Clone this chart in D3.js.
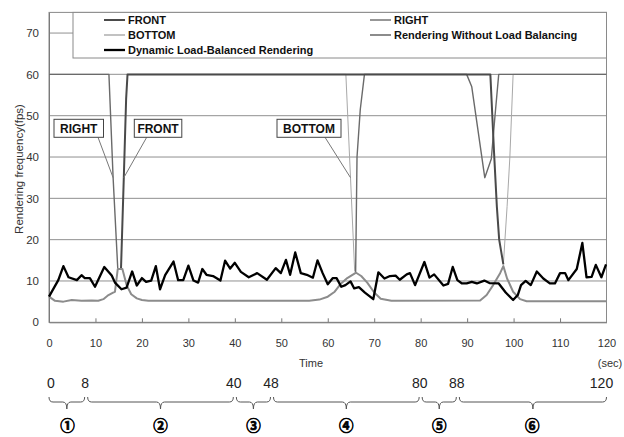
<!DOCTYPE html>
<html>
<head>
<meta charset="utf-8">
<script src="https://cdn.jsdelivr.net/npm/d3@7"></script>
<style>
  body { margin: 0; background: #fff; }
  svg { display: block; font-family: "Liberation Sans", Arial, sans-serif; }
</style>
</head>
<body>
<div id="host"></div>
<script>
// time axis ticks (sec) and fps ticks
const xTicks = [0, 10, 20, 30, 40, 50, 60, 70, 80, 90, 100, 110, 120];
const yTicks = [0, 10, 20, 30, 40, 50, 60, 70];

// Dynamic Load-Balanced Rendering
const dynTime = [0, 2, 3.1, 4.2, 6, 7, 7.7, 8.8, 9.9, 11.9, 13.5, 14.2, 15.6, 16.7, 17.9, 18.9, 20, 20.9, 22, 23, 23.9, 25, 26.8, 27.8, 28.9, 30, 31.1, 32.1, 33, 33.9, 35.3, 36.9, 37.9, 39, 40, 41.3, 43, 44.8, 46.9, 48.8, 49.9, 51, 51.9, 53, 54.2, 55.5, 56.8, 57.8, 58.9, 60, 61.1, 61.9, 62.9, 63.8, 64.9, 65.7, 66.7, 68, 69.8, 70.9, 72.2, 73.4, 74.6, 75.5, 77, 77.7, 78.8, 80.8, 81.9, 82.9, 84.9, 85.9, 86.9, 87.9, 88.9, 89.9, 91, 92.1, 93.7, 94.8, 96.8, 98.3, 99.9, 100.9, 101.6, 102.6, 103.7, 105, 106.4, 107.8, 108.9, 110, 111.1, 111.8, 113.6, 114.8, 115.7, 116.8, 117.7, 118.9, 119.9];
const dynFps = [6.2, 10.2, 13.6, 10.9, 10.2, 11.4, 10.7, 10.7, 8.6, 13.4, 11.3, 9.6, 8, 8.4, 12.3, 8.9, 10.7, 9.8, 10.1, 13.6, 8, 11.4, 14.7, 10.2, 10.2, 13.7, 10.1, 9.6, 12.9, 11.5, 11.2, 10.1, 14.9, 13, 14.4, 12.2, 10.9, 11.9, 10.3, 13.1, 11.9, 15.1, 11.5, 16.9, 11.9, 11.5, 10.8, 15, 11.9, 9.2, 10.7, 10.7, 8.6, 9, 9.9, 8.2, 8.5, 7.2, 5.6, 12.1, 10.6, 11.2, 11.3, 10.3, 11.6, 11.9, 9, 14.6, 10.8, 11.6, 8.9, 9.3, 13.4, 10.2, 9.4, 9.4, 9.8, 9.4, 10.1, 9.5, 9.4, 7.2, 5.4, 6.6, 9, 10, 9, 12.3, 10.6, 9.4, 9.4, 11.9, 11.9, 10.2, 12.9, 19.2, 10.9, 11, 13.9, 10.9, 14];

// Rendering Without Load Balancing
const nolbTime = [0, 1.3, 3.1, 4.9, 7, 9.2, 10.6, 11.7, 12.8, 13.8, 14.2, 14.8, 15.8, 16.7, 17.7, 18.9, 20, 21.4, 56, 58.2, 60, 61.5, 62.7, 64.2, 66.1, 67.2, 68.5, 70, 71.4, 73.7, 92.8, 94.2, 95.6, 97.1, 97.8, 98.6, 99.9, 101.4, 102.8, 120];
const nolbFps = [6.2, 5.2, 5, 5.4, 5.2, 5.3, 5.2, 5.6, 6.6, 7.2, 7.4, 12.9, 12.9, 9, 6.8, 5.8, 5.4, 5.2, 5.2, 5.5, 6.2, 7.4, 9.2, 10.7, 12, 11.2, 9.6, 7.2, 5.7, 5.2, 5.3, 6.6, 9, 11.9, 13.6, 10.6, 7.4, 5.6, 5.1, 5.1];

// per-view frequencies (null = hidden under the active rendering line)
const frontTime = [15.5, 16.1, 16.6, 16.9, 95.0, 95.8, 96.4, 96.9, 97.8];
const frontFps = [13, 35, 54, 60, 60, 41, 28, 20, 14];
const rightTime = [0, 12.9, 13.8, 14.8, 40, 66.0, 66.3, 67.0, 67.9, 89.9, 91, 93.8, 95.2, 96.0, 96.8, 120];
const rightFps = [60, 60, 35, 13, null, 12, 40, 51.5, 60, 60, 57, 35, 39.5, 50, 60, 60];
const bottomTime = [0, 63.9, 64.9, 65.8, 80, 97.8, 98.6, 99.2, 99.9, 120];
const bottomFps = [60, 60, 35, 12.3, null, 14, 28, 40, 60, 60];

// phases under the time axis
const phaseBounds = [0, 8, 40, 48, 80, 88, 120];
const phaseMarks = ['①', '②', '③', '④', '⑤', '⑥'];

const width = 624;
const height = 437;

const svg = d3.select('#host').append('svg')
  .attr('width', width)
  .attr('height', height);

const x = d3.scaleLinear().domain([0, 120]).range([49, 606.5]);
const y = d3.scaleLinear().domain([0, 75]).range([322.3, 12.4]);

const line = d3.line()
  .defined((d) => d[1] !== null)
  .x((d) => x(d[0]))
  .y((d) => y(d[1]));
const zip = (ts, vs) => ts.map((t, i) => [t, vs[i]]);

// gridlines
svg.append('g')
  .selectAll('line')
  .data(yTicks.filter((v) => v > 0))
  .join('line')
  .attr('x1', x(0))
  .attr('x2', x(120))
  .attr('y1', (v) => y(v))
  .attr('y2', (v) => y(v))
  .attr('stroke', '#909090')
  .attr('stroke-width', 1);

// plot frame
svg.append('rect')
  .attr('x', x(0))
  .attr('y', y(75))
  .attr('width', x(120) - x(0))
  .attr('height', y(0) - y(75))
  .attr('fill', 'none')
  .attr('stroke', '#8a8a8a')
  .attr('stroke-width', 1);

// axes
const xAxis = svg.append('g')
  .attr('transform', `translate(0,${y(0)})`)
  .call(d3.axisBottom(x).tickValues(xTicks).tickSizeInner(-4).tickSizeOuter(0).tickPadding(17));
xAxis.select('.domain').attr('stroke', '#7a7a7a');
xAxis.selectAll('line').attr('stroke', '#7a7a7a');
xAxis.selectAll('text')
  .attr('font-size', 11)
  .attr('font-family', '"Liberation Sans", Arial, sans-serif')
  .attr('fill', '#333');
xAxis.selectAll('.tick').filter((d) => d === 0 || d === 120).select('line').remove();

const yAxis = svg.append('g')
  .attr('transform', `translate(${x(0)},0)`)
  .call(d3.axisLeft(y).tickValues(yTicks).tickSize(0).tickPadding(10));
yAxis.select('.domain').attr('stroke', '#7a7a7a');
yAxis.selectAll('text')
  .attr('font-size', 11.5)
  .attr('font-family', '"Liberation Sans", Arial, sans-serif')
  .attr('fill', '#333');

svg.append('text')
  .attr('x', 311)
  .attr('y', 367)
  .attr('text-anchor', 'middle')
  .attr('font-size', 11)
  .attr('fill', '#333')
  .text('Time');
svg.append('text')
  .attr('x', 610)
  .attr('y', 367)
  .attr('text-anchor', 'middle')
  .attr('font-size', 11)
  .attr('fill', '#333')
  .text('(sec)');
svg.append('text')
  .attr('transform', 'translate(23,169) rotate(-90)')
  .attr('text-anchor', 'middle')
  .attr('font-size', 11.5)
  .attr('fill', '#333')
  .text('Rendering frequency(fps)');

// series
const series = [
  { name: 'BOTTOM', data: zip(bottomTime, bottomFps), color: '#a8a8a8', w: 1 },
  { name: 'RIGHT', data: zip(rightTime, rightFps), color: '#6a6a6a', w: 1.4 },
  { name: 'FRONT', data: zip(frontTime, frontFps), color: '#4a4a4a', w: 2 },
  { name: 'Rendering Without Load Balancing', data: zip(nolbTime, nolbFps), color: '#8c8c8c', w: 2 },
  { name: 'Dynamic Load-Balanced Rendering', data: zip(dynTime, dynFps), color: '#000', w: 2.3 },
];

svg.append('g')
  .selectAll('path')
  .data(series)
  .join('path')
  .attr('d', (s) => line(s.data))
  .attr('fill', 'none')
  .attr('stroke', (s) => s.color)
  .attr('stroke-width', (s) => s.w)
  .attr('stroke-linejoin', 'round');

// legend
const legend = svg.append('g');
legend.append('rect')
  .attr('x', 73)
  .attr('y', y(75))
  .attr('width', x(120) - 73)
  .attr('height', 58 - y(75))
  .attr('fill', '#fff')
  .attr('stroke', '#8a8a8a');

const legendItems = [
  { s: series[2], col: 0, row: 0 },
  { s: series[0], col: 0, row: 1 },
  { s: series[4], col: 0, row: 2 },
  { s: series[1], col: 1, row: 0 },
  { s: series[3], col: 1, row: 1 },
];
const li = legend.selectAll('g.item')
  .data(legendItems)
  .join('g')
  .attr('class', 'item')
  .attr('transform', (d) => `translate(${d.col ? 370 : 104},${20 + d.row * 15})`);
li.append('line')
  .attr('x1', 0)
  .attr('x2', 21)
  .attr('stroke', (d) => d.s.color)
  .attr('stroke-width', (d) => Math.max(d.s.w, 1.4));
li.append('text')
  .attr('x', 24)
  .attr('y', 4)
  .attr('font-size', 11)
  .attr('font-weight', 'bold')
  .attr('fill', '#111')
  .text((d) => d.s.name);

// callout labels
const callouts = [
  { text: 'RIGHT', bx: 54, bw: 49.5, from: [98, 137.3], to: [13.8, 35] },
  { text: 'FRONT', bx: 134.3, bw: 47.5, from: [146.7, 137.3], to: [16.1, 35] },
  { text: 'BOTTOM', bx: 277, bw: 64, from: [325, 137.3], to: [64.9, 35] },
];
const co = svg.append('g');
co.selectAll('line')
  .data(callouts)
  .join('line')
  .attr('x1', (d) => d.from[0])
  .attr('y1', (d) => d.from[1])
  .attr('x2', (d) => x(d.to[0]))
  .attr('y2', (d) => y(d.to[1]))
  .attr('stroke', '#777')
  .attr('stroke-width', 1);
co.selectAll('rect')
  .data(callouts)
  .join('rect')
  .attr('x', (d) => d.bx)
  .attr('y', 119.3)
  .attr('width', (d) => d.bw)
  .attr('height', 18)
  .attr('fill', '#fff')
  .attr('stroke', '#444');
co.selectAll('text')
  .data(callouts)
  .join('text')
  .attr('x', (d) => d.bx + d.bw / 2)
  .attr('y', 132.8)
  .attr('text-anchor', 'middle')
  .attr('font-size', 12)
  .attr('font-weight', 'bold')
  .attr('fill', '#111')
  .text((d) => d.text);

// phase braces
const phases = phaseMarks.map((m, i) => ({ a: phaseBounds[i], b: phaseBounds[i + 1], m }));
const braceTop = 397;
const braceMid = 402;
const braceTip = 409;
const brace = (x1, x2) => {
  const xm = (x1 + x2) / 2;
  const r = 4;
  return `M${x1},${braceTop} Q${x1},${braceMid} ${x1 + r},${braceMid} L${xm - r},${braceMid} ` +
    `Q${xm},${braceMid} ${xm},${braceTip} Q${xm},${braceMid} ${xm + r},${braceMid} ` +
    `L${x2 - r},${braceMid} Q${x2},${braceMid} ${x2},${braceTop}`;
};
svg.append('g')
  .selectAll('path')
  .data(phases)
  .join('path')
  .attr('d', (p) => brace(x(p.a) + (p.a ? 1.5 : 0), x(p.b) - (p.b < 120 ? 1.5 : 0)))
  .attr('fill', 'none')
  .attr('stroke', '#555')
  .attr('stroke-width', 1);

svg.append('g')
  .selectAll('text')
  .data(phaseBounds)
  .join('text')
  .attr('x', (b) => x(b) + (b === 0 ? 2 : b === 120 ? -5 : -1))
  .attr('y', 388)
  .attr('text-anchor', 'middle')
  .attr('font-size', 14)
  .attr('fill', '#222')
  .text((b) => String(b));

svg.append('g')
  .selectAll('text')
  .data(phases)
  .join('text')
  .attr('x', (p) => (x(p.a) + x(p.b)) / 2)
  .attr('y', 431)
  .attr('text-anchor', 'middle')
  .attr('font-family', '"Noto Sans CJK JP", "DejaVu Sans", sans-serif')
  .attr('font-size', 14.5)
  .attr('font-weight', 'bold')
  .attr('fill', '#000')
  .attr('stroke', '#000')
  .attr('stroke-width', 0.7)
  .text((p) => p.m);
</script>
</body>
</html>
